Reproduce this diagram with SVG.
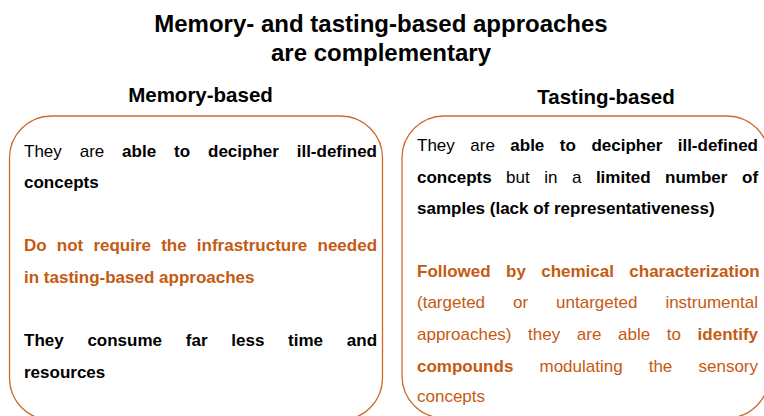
<svg xmlns="http://www.w3.org/2000/svg" width="764" height="416" viewBox="0 0 764 416">
  <style>
    text { font-family: "Liberation Sans", Arial, sans-serif; fill: #000; }
    .title { font-size: 24px; font-weight: bold; text-anchor: middle; }
    .head { font-size: 20.5px; font-weight: bold; text-anchor: middle; }
    .body { font-size: 17px; }
    .b { font-weight: bold; }
    .o { fill: #C55A11; }
    .panel { fill: #fff; stroke: #CD6A28; stroke-width: 1.3; }
  </style>

  <rect width="764" height="416" fill="#fff"/>

  <g id="title">
    <text class="title" x="381" y="32">Memory- and tasting-based approaches</text>
    <text class="title" x="381" y="61">are complementary</text>
  </g>

  <g id="memory-based">
    <text class="head" x="200.5" y="102">Memory-based</text>
    <rect class="panel" x="9.5" y="116" width="373" height="304" rx="42" ry="42"/>
    <text class="body" y="157">
      <tspan x="24">They</tspan><tspan x="79.7">are</tspan><tspan class="b" x="122.1">able</tspan><tspan class="b" x="174">to</tspan><tspan class="b" x="208">decipher</tspan><tspan class="b" x="296.7">ill-defined</tspan>
    </text>
    <text class="body b" x="24" y="188">concepts</text>
    <text class="body b o" y="251">
      <tspan x="24">Do</tspan><tspan x="56.8">not</tspan><tspan x="93.4">require</tspan><tspan x="161.2">the</tspan><tspan x="196.8">infrastructure</tspan><tspan x="317.5">needed</tspan>
    </text>
    <text class="body b o" x="24" y="283">in tasting-based approaches</text>
    <text class="body b" y="346">
      <tspan x="24">They</tspan><tspan x="87.4">consume</tspan><tspan x="185.8">far</tspan><tspan x="231.3">less</tspan><tspan x="288.1">time</tspan><tspan x="346.8">and</tspan>
    </text>
    <text class="body b" x="24" y="378">resources</text>
  </g>

  <g id="tasting-based">
    <text class="head" x="606" y="104">Tasting-based</text>
    <rect class="panel" x="402" y="116" width="367" height="302" rx="42" ry="42"/>
    <text class="body" y="151">
      <tspan x="417">They</tspan><tspan x="470.3">are</tspan><tspan class="b" x="510.3">able</tspan><tspan class="b" x="559.8">to</tspan><tspan class="b" x="591.4">decipher</tspan><tspan class="b" x="677.7">ill-defined</tspan>
    </text>
    <text class="body" y="183">
      <tspan class="b" x="417">concepts</tspan><tspan x="506.1">but</tspan><tspan x="544.2">in</tspan><tspan x="571.9">a</tspan><tspan class="b" x="595.9">limited</tspan><tspan class="b" x="665.1">number</tspan><tspan class="b" x="742">of</tspan>
    </text>
    <text class="body b" x="417" y="214">samples (lack of representativeness)</text>
    <text class="body b o" y="277">
      <tspan x="417">Followed</tspan><tspan x="506">by</tspan><tspan x="541.2">chemical</tspan><tspan x="629.3">characterization</tspan>
    </text>
    <text class="body o" y="308">
      <tspan x="417">(targeted</tspan><tspan x="513">or</tspan><tspan x="556.1">untargeted</tspan><tspan x="665.4">instrumental</tspan>
    </text>
    <text class="body o" y="340">
      <tspan x="417">approaches)</tspan><tspan x="528.1">they</tspan><tspan x="576.8">are</tspan><tspan x="618">able</tspan><tspan x="666.8">to</tspan><tspan class="b" x="697.6">identify</tspan>
    </text>
    <text class="body o" y="372">
      <tspan class="b" x="417">compounds</tspan><tspan x="539.5">modulating</tspan><tspan x="648.7">the</tspan><tspan x="698.5">sensory</tspan>
    </text>
    <text class="body o" x="417" y="402">concepts</text>
  </g>
</svg>
